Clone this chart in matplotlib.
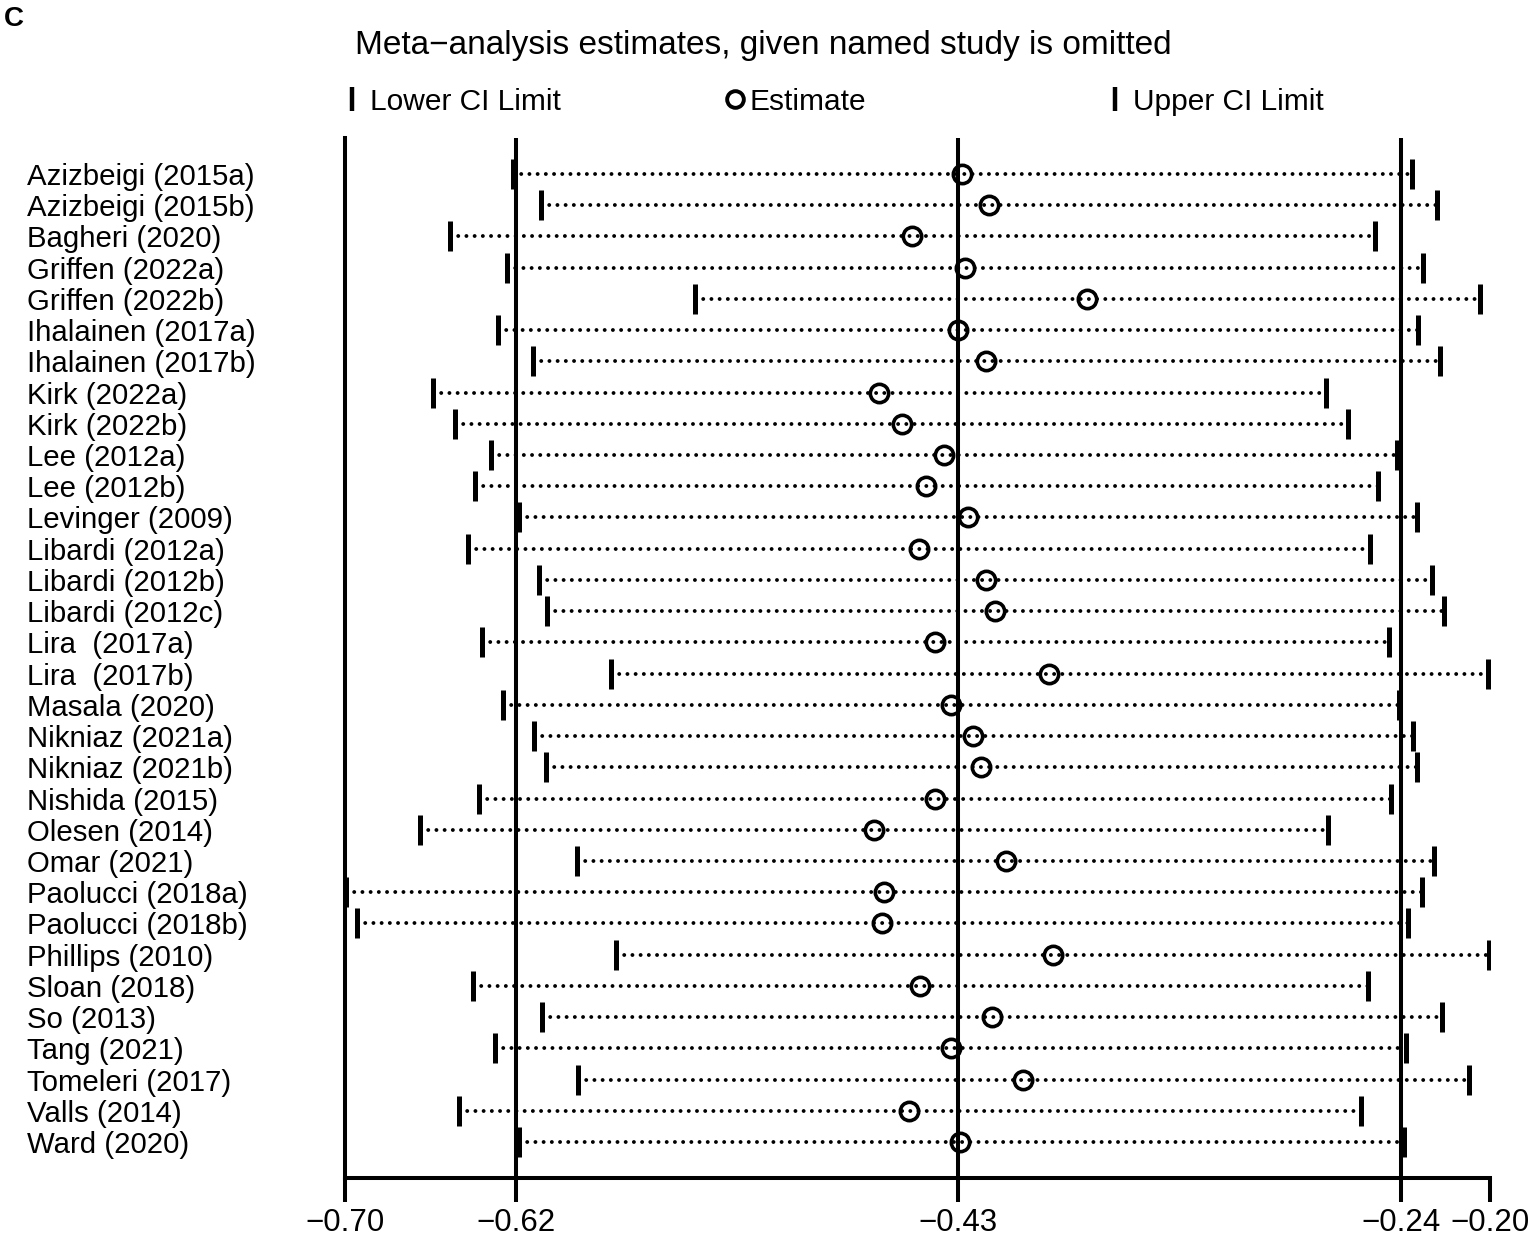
import matplotlib
matplotlib.use("Agg")
import matplotlib.pyplot as plt
from matplotlib.lines import Line2D
import numpy as np

# ---------------- data ----------------
studies = [
    "Azizbeigi (2015a)", "Azizbeigi (2015b)", "Bagheri (2020)", "Griffen (2022a)",
    "Griffen (2022b)", "Ihalainen (2017a)", "Ihalainen (2017b)", "Kirk (2022a)",
    "Kirk (2022b)", "Lee (2012a)", "Lee (2012b)", "Levinger (2009)",
    "Libardi (2012a)", "Libardi (2012b)", "Libardi (2012c)", "Lira  (2017a)",
    "Lira  (2017b)", "Masala (2020)", "Nikniaz (2021a)", "Nikniaz (2021b)",
    "Nishida (2015)", "Olesen (2014)", "Omar (2021)", "Paolucci (2018a)",
    "Paolucci (2018b)", "Phillips (2010)", "Sloan (2018)", "So (2013)",
    "Tang (2021)", "Tomeleri (2017)", "Valls (2014)", "Ward (2020)",
]
lower = [-0.6268, -0.6145, -0.6540, -0.6294, -0.5472, -0.6331, -0.6180, -0.6617,
         -0.6518, -0.6361, -0.6432, -0.6239, -0.6462, -0.6152, -0.6119, -0.6402,
         -0.5838, -0.6311, -0.6176, -0.6121, -0.6415, -0.6671, -0.5987, -0.6995,
         -0.6949, -0.5818, -0.6442, -0.6140, -0.6344, -0.5981, -0.6503, -0.6239]
estimate = [-0.4304, -0.4188, -0.4524, -0.4294, -0.3760, -0.4324, -0.4202, -0.4667,
            -0.4568, -0.4386, -0.4462, -0.4278, -0.4495, -0.4202, -0.4162, -0.4422,
            -0.3926, -0.4352, -0.4256, -0.4221, -0.4422, -0.4690, -0.4115, -0.4648,
            -0.4654, -0.3910, -0.4488, -0.4175, -0.4354, -0.4038, -0.4536, -0.4313]
upper = [-0.2339, -0.2231, -0.2503, -0.2291, -0.2045, -0.2313, -0.2220, -0.2716,
         -0.2619, -0.2407, -0.2490, -0.2319, -0.2524, -0.2252, -0.2202, -0.2441,
         -0.2007, -0.2399, -0.2338, -0.2320, -0.2431, -0.2707, -0.2243, -0.2296,
         -0.2357, -0.2003, -0.2533, -0.2208, -0.2368, -0.2093, -0.2565, -0.2376]
overall = [-0.6255, -0.4323, -0.2387]          # lower CI, estimate, upper CI
xtick_values = [-0.70, -0.6255, -0.4323, -0.2387, -0.20]
xtick_labels = ["\u22120.70", "\u22120.62", "\u22120.43", "\u22120.24", "\u22120.20"]
title = "Meta\u2212analysis estimates, given named study is omitted"
legend_labels = ["Lower CI Limit", "Estimate", "Upper CI Limit"]

# ---------------- style ----------------
W, H = 1535, 1243
DPI = 100
plt.rcParams["font.family"] = ["Liberation Sans", "DejaVu Sans"]
LW = 2.9

fig = plt.figure(figsize=(W / DPI, H / DPI), dpi=DPI, facecolor="white")

def fx(px):
    return px / W

def fy(py):
    return 1 - py / H

ax_left, ax_right, ax_top, ax_bottom = 345, 1490, 138, 1178
ax = fig.add_axes([fx(ax_left), fy(ax_bottom), fx(ax_right - ax_left),
                   (ax_bottom - ax_top) / H])

n = len(studies)
y = np.arange(1, n + 1)

# overall reference lines
for v in overall:
    ax.axvline(v, color="black", lw=LW, zorder=2)

# dotted CI lines
for lo, hi, yi in zip(lower, upper, y):
    ax.plot([lo, hi], [yi, yi], color="black", lw=2.8,
            linestyle=(0, (0.01, 2.1)), dash_capstyle="round", zorder=3)

ax.plot(lower, y, linestyle="none", marker="|", ms=21, mew=3.6,
        color="black", zorder=4)
ax.plot(upper, y, linestyle="none", marker="|", ms=21, mew=3.6,
        color="black", zorder=4)
ax.plot(estimate, y, linestyle="none", marker="o", ms=13.2, mew=2.6,
        mfc="none", mec="black", zorder=5)

ax.set_xlim(-0.70, -0.20)
ax.set_ylim(n + 1.15, -0.15)

ax.set_xticks(xtick_values)
ax.set_xticklabels(xtick_labels, fontsize=22.5)
ax.tick_params(axis="x", direction="out", length=17, width=LW, pad=4.3,
               color="black")

ax.set_yticks(y)
ax.set_yticklabels(studies, fontsize=21.2)
pad_pts = (ax_left - 27) / DPI * 72
ax.tick_params(axis="y", length=0, pad=pad_pts)
for lab in ax.get_yticklabels():
    lab.set_horizontalalignment("left")

for side in ["top", "right"]:
    ax.spines[side].set_visible(False)
for side in ["left", "bottom"]:
    ax.spines[side].set_linewidth(LW)
    ax.spines[side].set_color("black")

# title
fig.text(fx(355), fy(54), title, fontsize=24, ha="left", va="baseline")

# panel letter
fig.text(fx(4), fy(6), "C", fontsize=20, fontweight="bold", ha="left", va="top")

# legend
leg_y = 99
leg_items = [(352, "|", legend_labels[0], 370),
             (735, "o", legend_labels[1], 750),
             (1115, "|", legend_labels[2], 1133)]
for mx, mk, txt, tx in leg_items:
    if mk == "|":
        fig.add_artist(Line2D([fx(mx)], [fy(leg_y)], marker="|", ms=17, mew=3.2,
                              color="black", linestyle="none",
                              transform=fig.transFigure))
    else:
        fig.add_artist(Line2D([fx(mx)], [fy(leg_y)], marker="o", ms=12, mew=2.8,
                              mfc="none", mec="black", linestyle="none",
                              transform=fig.transFigure))
    fig.text(fx(tx), fy(110), txt, fontsize=21.5, ha="left", va="baseline")

fig.savefig("out.png", dpi=DPI, facecolor="white")
